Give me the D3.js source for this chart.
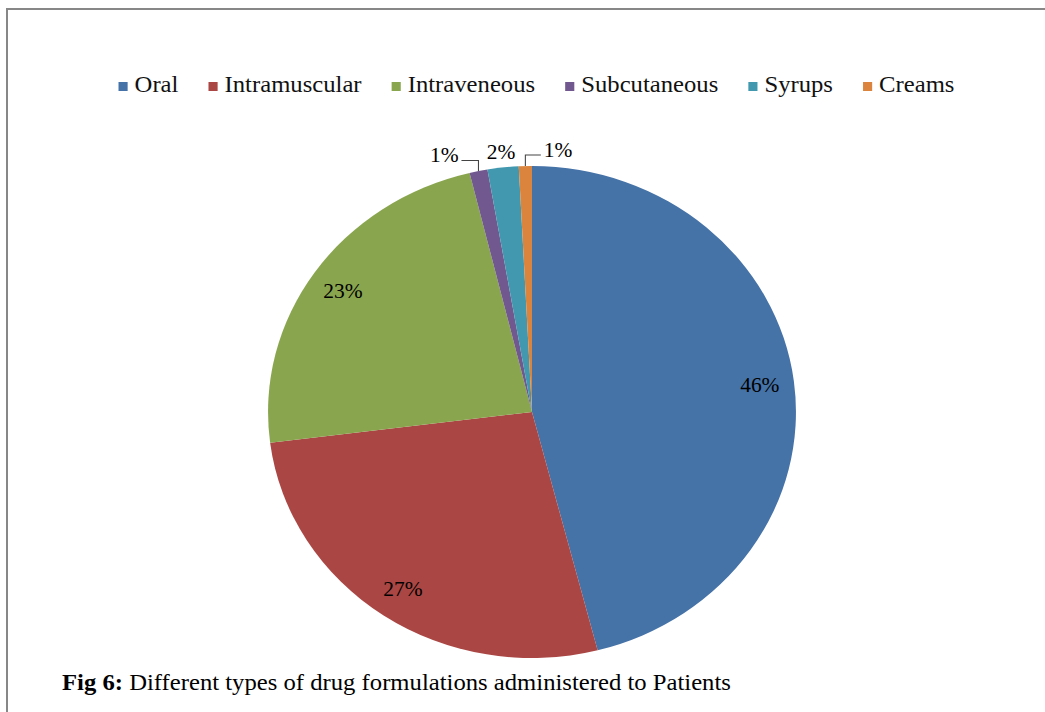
<!DOCTYPE html>
<html>
<head>
<meta charset="utf-8">
<script src="https://cdn.jsdelivr.net/npm/d3@7"></script>
<style>
  body { margin: 0; background: #fff; }
  svg text { font-family: "Liberation Serif", "Times New Roman", serif; }
</style>
</head>
<body>
<svg id="chart" width="1045" height="712"></svg>
<script>
// ---- DATA ----
const categories = ["Oral", "Intramuscular", "Intraveneous", "Subcutaneous", "Syrups", "Creams"];
const shares = [46, 27, 23.2, 1.1, 1.9, 0.8];
const colors = ["#4572A7", "#AA4643", "#89A54E", "#71588F", "#4198AF", "#DB843D"];
const captionBold = "Fig 6:";
const captionText = " Different types of drug formulations administered to Patients";

const data = categories.map((c, i) => ({ name: c, value: shares[i], color: colors[i] }));
const total = d3.sum(shares);

// the original picture is a bit stretched sideways
const sx = 1.073;

const svg = d3.select("#chart");

// frame (top + left edge only visible)
svg.append("path")
    .attr("d", "M7,720 L7,9 L1050,9")
    .attr("fill", "none")
    .attr("stroke", "#878787")
    .attr("stroke-width", 2);

const root = svg.append("g").attr("transform", `scale(${sx},1)`);

// ---- PIE ----
const cx = 532 / sx, cy = 412, r = 246;

const pie = d3.pie().sort(null).value(d => d.value);
const arcs = pie(data);

const arc = d3.arc().innerRadius(0).outerRadius(r);
const inLabelArc = d3.arc().innerRadius(r * 0.87).outerRadius(r * 0.87);

const g = root.append("g").attr("transform", `translate(${cx},${cy})`);

g.selectAll("path.slice")
    .data(arcs)
    .enter()
    .append("path")
    .attr("class", "slice")
    .attr("d", arc)
    .attr("fill", d => d.data.color);

const pct = d => Math.round(d.data.value / total * 100) + "%";

// big slices: label inside
const big = arcs.filter(d => d.data.value >= 5);
g.selectAll("text.in")
    .data(big)
    .enter()
    .append("text")
    .attr("class", "in")
    .attr("x", d => inLabelArc.centroid(d)[0])
    .attr("y", d => inLabelArc.centroid(d)[1])
    .attr("dy", "0.35em")
    .attr("text-anchor", "middle")
    .attr("font-size", 20)
    .attr("fill", "#000")
    .text(pct);

// small slices: labels outside, spread apart, leader lines to the edge
const small = arcs.filter(d => d.data.value < 5);
const mid = d => (d.startAngle + d.endAngle) / 2;
const spread = 53;
const midIdx = (small.length - 1) / 2;
small.forEach((d, i) => {
    const a = mid(d);
    const ly = -Math.cos(a) * r * 1.065;
    const centerX = Math.sin(mid(small[Math.round(midIdx)])) * r * 1.065;
    const lx = centerX + (i - midIdx) * spread;
    d.lx = lx; d.ly = ly;
    d.ex = Math.sin(a) * r; d.ey = -Math.cos(a) * r;
});

g.selectAll("text.out")
    .data(small)
    .enter()
    .append("text")
    .attr("class", "out")
    .attr("x", d => d.lx)
    .attr("y", d => d.ly)
    .attr("dy", "0.35em")
    .attr("text-anchor", "middle")
    .attr("font-size", 20)
    .attr("fill", "#000")
    .text(pct);

g.selectAll("path.leader")
    .data(small.filter(d => Math.abs(d.lx - d.ex) > 20))
    .enter()
    .append("path")
    .attr("class", "leader")
    .attr("fill", "none")
    .attr("stroke", "#444")
    .attr("stroke-width", 1)
    .attr("d", d => {
        const side = d.ex > d.lx ? 1 : -1;
        const x0 = d.lx + side * 16;
        const y0 = d.ly + 5;
        return `M${x0},${y0} L${d.ex},${y0} L${d.ex},${d.ey}`;
    });

// ---- LEGEND ----
const legend = root.append("g");
const items = legend.selectAll("g.item")
    .data(data)
    .enter()
    .append("g")
    .attr("class", "item");

items.append("rect")
    .attr("width", 8.5)
    .attr("height", 9)
    .attr("y", -10)
    .attr("fill", d => d.color);

items.append("text")
    .attr("x", 15)
    .attr("font-size", 23)
    .attr("fill", "#111")
    .text(d => d.name);

let lx = 0;
items.each(function() {
    const w = d3.select(this).select("text").node().getComputedTextLength();
    d3.select(this).attr("transform", `translate(${lx},0)`);
    lx += 15 + w + 28;
});
const legendWidth = lx - 28;
legend.attr("transform", `translate(${536.5 / sx - legendWidth / 2},92)`);

// ---- CAPTION ----
const cap = root.append("text")
    .attr("x", 62 / sx)
    .attr("y", 690)
    .attr("font-size", 23)
    .attr("fill", "#000");
cap.append("tspan").attr("font-weight", "bold").text(captionBold);
cap.append("tspan").text(captionText);
</script>
</body>
</html>
